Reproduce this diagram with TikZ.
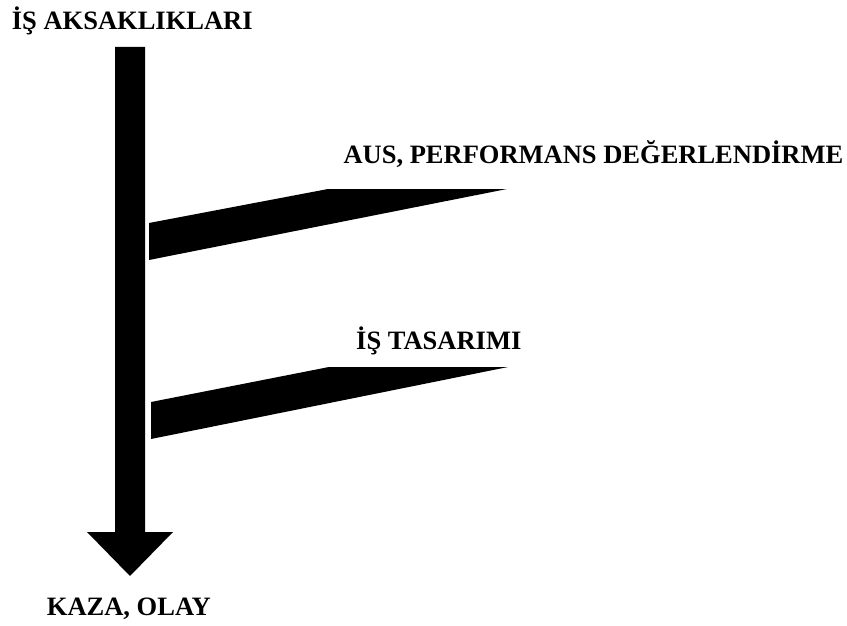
\documentclass[tikz,border=0pt]{standalone}
\usepackage{fontspec}
\newfontfamily\lblfont{Liberation Serif Bold}
\begin{document}
\begin{tikzpicture}[x=1pt,y=-1pt,
  lbl/.style={anchor=base west,inner sep=0pt,font=\lblfont\fontsize{26.5}{30}\selectfont},
  blackfill/.style={fill=black,draw=none}]
\useasboundingbox (0,0) rectangle (847,626);
% main arrow
\fill[blackfill] (115,47) -- (145,47) -- (145,532) -- (173,532) -- (130,576) -- (87,532) -- (115,532) -- cycle;
% branches
\fill[blackfill] (149,223) -- (328,189) -- (507,189) -- (149,260) -- cycle;
\fill[blackfill] (151,402) -- (329,367) -- (508,367) -- (151,439) -- cycle;
% labels
\node[lbl] (top) at (11.7,29.3) {İŞ AKSAKLIKLARI};
\node[lbl] (aus) at (343.3,163.3) {AUS, PERFORMANS DEĞERLENDİRME};
\node[lbl] (is) at (356,349.3) {İŞ TASARIMI};
\node[lbl] (kaza) at (46.7,615) {KAZA, OLAY};
\end{tikzpicture}
\end{document}
